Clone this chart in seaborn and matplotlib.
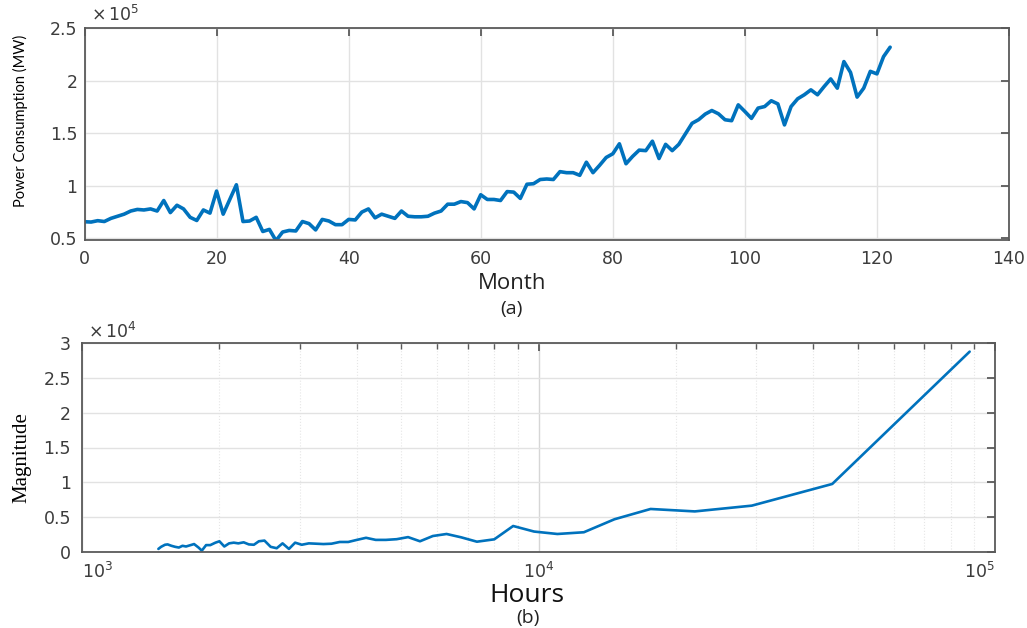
import numpy as np
import pandas as pd
import matplotlib
matplotlib.use("Agg")
import matplotlib.pyplot as plt
import seaborn as sns
from matplotlib.ticker import FixedLocator, NullFormatter

# ---------------- data ----------------
# (a) monthly power consumption, in units of 1e5 MW
months = list(range(0, 123))
power_x1e5 = [
    0.658, 0.655, 0.668, 0.660, 0.690, 0.710, 0.730, 0.760, 0.775, 0.770,
    0.780, 0.760, 0.860, 0.745, 0.815, 0.780, 0.700, 0.670, 0.770, 0.740,
    0.950, 0.730, 0.870, 1.010, 0.660, 0.665, 0.700, 0.565, 0.585, 0.478,
    0.560, 0.575, 0.570, 0.660, 0.640, 0.580, 0.680, 0.665, 0.630, 0.630,
    0.680, 0.675, 0.750, 0.780, 0.695, 0.730, 0.710, 0.690, 0.760, 0.710,
    0.705, 0.705, 0.710, 0.740, 0.760, 0.825, 0.825, 0.850, 0.840, 0.780,
    0.915, 0.870, 0.870, 0.860, 0.945, 0.940, 0.880, 1.015, 1.020, 1.060,
    1.065, 1.060, 1.135, 1.125, 1.125, 1.100, 1.225, 1.125, 1.195, 1.270,
    1.305, 1.400, 1.210, 1.280, 1.340, 1.335, 1.425, 1.260, 1.395, 1.335,
    1.395, 1.495, 1.595, 1.630, 1.683, 1.717, 1.686, 1.629, 1.620, 1.771,
    1.708, 1.642, 1.740, 1.755, 1.810, 1.780, 1.580, 1.755, 1.829, 1.867,
    1.914, 1.867, 1.945, 2.018, 1.930, 2.183, 2.080, 1.845, 1.930, 2.090,
    2.066, 2.230, 2.320,
]

# (b) spectrum magnitude vs period in hours, magnitude in units of 1e4
hours = [
    88000, 44000, 29330, 22000, 17600, 14670, 12570, 11000, 9780, 8800,
    8000, 7330, 6770, 6290, 5870, 5500, 5180, 4890, 4630, 4400,
    4190, 4000, 3830, 3670, 3520, 3380, 3260, 3140, 3030, 2930,
    2840, 2750, 2670, 2590, 2510, 2440, 2380, 2320, 2260, 2200,
    2150, 2100, 2050, 2000, 1960, 1910, 1870, 1830, 1800, 1760,
    1730, 1690, 1660, 1630, 1600, 1570, 1540, 1520, 1490, 1470,
]
magnitude_x1e4 = [
    2.880, 0.975, 0.663, 0.580, 0.615, 0.467, 0.280, 0.255, 0.290, 0.370,
    0.178, 0.144, 0.207, 0.255, 0.226, 0.150, 0.210, 0.180, 0.170, 0.170,
    0.200, 0.170, 0.140, 0.140, 0.115, 0.110, 0.115, 0.120, 0.100, 0.130,
    0.040, 0.120, 0.050, 0.070, 0.160, 0.150, 0.100, 0.105, 0.135, 0.120,
    0.130, 0.120, 0.075, 0.150, 0.130, 0.095, 0.095, 0.015, 0.060, 0.110,
    0.095, 0.075, 0.085, 0.060, 0.070, 0.085, 0.105, 0.100, 0.070, 0.040,
]

top_yticks = [0.5, 1, 1.5, 2, 2.5]
top_ytick_labels = ["0.5", "1", "1.5", "2", "2.5"]
top_xticks = [0, 20, 40, 60, 80, 100, 120, 140]
bot_yticks = [0, 0.5, 1, 1.5, 2, 2.5, 3]
bot_ytick_labels = ["0", "0.5", "1", "1.5", "2", "2.5", "3"]
bot_xticks = [1e3, 1e4, 1e5]
bot_xtick_labels = [r"$10^{3}$", r"$10^{4}$", r"$10^{5}$"]

# ---------------- style ----------------
sns.set_theme(style="white")
plt.rcParams["font.family"] = ["DejaVu Sans"]
plt.rcParams["mathtext.fontset"] = "dejavusans"

LINE = "#0072BD"
SPINE = "#5a5a5a"
TICKTXT = "#3c3c3c"
GRID = "#e2e2e2"

W, H = 1027, 628
fig = plt.figure(figsize=(W / 100, H / 100), dpi=100)
fig.patch.set_facecolor("white")


def px_axes(left, top, right, bottom):
    return fig.add_axes([left / W, 1 - bottom / H, (right - left) / W, (bottom - top) / H])


def style_axes(ax):
    for s in ax.spines.values():
        s.set_color(SPINE)
        s.set_linewidth(1.3)
        s.set_visible(True)
    ax.tick_params(axis="both", which="both", direction="in", colors=SPINE,
                   top=True, right=True, labelcolor=TICKTXT, labelsize=12.5)
    ax.tick_params(axis="both", which="major", length=6, width=1.3)
    ax.tick_params(axis="both", which="minor", length=4, width=1.0)
    ax.set_facecolor("white")


# ---------------- top: (a) ----------------
ax1 = px_axes(84.5, 28.3, 1009, 240)
df1 = pd.DataFrame({"Month": months, "Power": power_x1e5})
sns.lineplot(data=df1, x="Month", y="Power", ax=ax1, color=LINE, linewidth=2.6,
             estimator=None)
ax1.set_xlim(0, 140)
ax1.set_ylim(0.484, 2.5)
ax1.set_xticks(top_xticks)
ax1.set_xticklabels([str(t) for t in top_xticks])
ax1.set_yticks(top_yticks)
ax1.set_yticklabels(top_ytick_labels)
ax1.grid(True, which="major", color=GRID, linewidth=1.0)
ax1.set_axisbelow(True)
style_axes(ax1)
ax1.tick_params(axis="x", pad=7)
ax1.tick_params(axis="y", pad=5)
ax1.set_xlabel("")
ax1.set_ylabel("")

fig.text(91 / W, 1 - 15 / H, r"$\times\,10^{5}$", fontsize=12.5, color=TICKTXT,
         ha="left", va="center")
fig.text(20 / W, 1 - 121 / H, "Power Consumption (MW)", rotation=90, fontsize=10.5,
         family=["Lato", "DejaVu Sans"], color="black", ha="center", va="center")
fig.text(512 / W, 1 - 283 / H, "Month", fontsize=16, family=["Open Sans", "DejaVu Sans"],
         color="#222222", ha="center", va="center")
fig.text(511 / W, 1 - 309 / H, "(a)", fontsize=14, family=["Open Sans", "DejaVu Sans"],
         color="#222222", ha="center", va="center")

# ---------------- bottom: (b) ----------------
ax2 = px_axes(82, 343.3, 995, 551.7)
ax2.set_xscale("log")
df2 = pd.DataFrame({"Hours": hours, "Magnitude": magnitude_x1e4})
sns.lineplot(data=df2, x="Hours", y="Magnitude", ax=ax2, color=LINE, linewidth=1.9,
             estimator=None)
ax2.set_xlim(1e3, 1e5)
ax2.set_ylim(0, 3)
ax2.set_yticks(bot_yticks)
ax2.set_yticklabels(bot_ytick_labels)
ax2.xaxis.set_major_locator(FixedLocator(bot_xticks))
ax2.set_xticklabels(bot_xtick_labels)
minor = [m * d for d in (1e3, 1e4) for m in range(2, 10)]
ax2.xaxis.set_minor_locator(FixedLocator(minor))
ax2.xaxis.set_minor_formatter(NullFormatter())
ax2.grid(True, axis="y", which="major", color=GRID, linewidth=1.0)
ax2.grid(True, axis="x", which="major", color="#d6d6d6", linewidth=1.0)
ax2.grid(True, axis="x", which="minor", color="#e6e6e6", linewidth=0.8, linestyle=":")
ax2.set_axisbelow(True)
style_axes(ax2)
ax2.tick_params(axis="x", pad=7)
ax2.tick_params(axis="y", pad=8)
labs = ax2.get_xticklabels()
labs[0].set_ha("left")
labs[-1].set_ha("right")
ax2.set_xlabel("")
ax2.set_ylabel("")

fig.text(88 / W, 1 - 332 / H, r"$\times\,10^{4}$", fontsize=12.5, color=TICKTXT,
         ha="left", va="center")
fig.text(22 / W, 1 - 458 / H, "Magnitude", rotation=90, fontsize=15,
         family=["Liberation Serif", "DejaVu Serif"], color="black",
         ha="center", va="center")
fig.text(527 / W, 1 - 596 / H, "Hours", fontsize=19, family=["Open Sans", "DejaVu Sans"],
         color="#111111", ha="center", va="center")
fig.text(528 / W, 1 - 618 / H, "(b)", fontsize=14, family=["Open Sans", "DejaVu Sans"],
         color="#222222", ha="center", va="center")

fig.savefig("out.png", dpi=100, facecolor="white")
